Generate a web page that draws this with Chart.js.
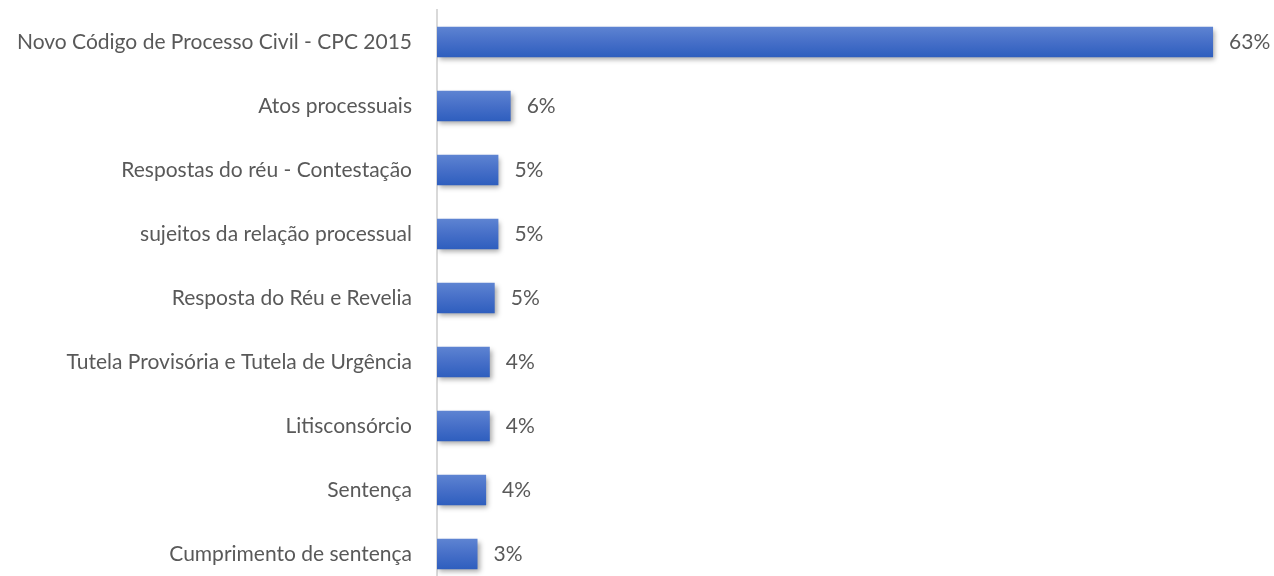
<!DOCTYPE html>
<html>
<head>
<meta charset="utf-8">
<script src="https://cdn.jsdelivr.net/npm/chart.js@4/dist/chart.umd.min.js"></script>
<style>
  html, body { margin: 0; padding: 0; background: #fff; overflow: hidden; }
  canvas { display: block; }
</style>
</head>
<body>
<canvas id="assuntosChart" width="1274" height="586"></canvas>
<script>
const categories = [
    'Novo Código de Processo Civil - CPC 2015',
    'Atos processuais',
    'Respostas do réu - Contestação',
    'sujeitos da relação processual',
    'Resposta do Réu e Revelia',
    'Tutela Provisória e Tutela de Urgência',
    'Litisconsórcio',
    'Sentença',
    'Cumprimento de sentença'
];
const percentValues = [63.2, 6.0, 5.0, 5.0, 4.7, 4.3, 4.3, 4.0, 3.3];

const textColor = '#595959';
const fontFamily = 'Lato, "Open Sans", sans-serif';

// vertical gradient per bar, built from the y scale
function barGradient(context) {
    const chart = context.chart;
    const yScale = chart.scales.y;
    if (!yScale || !chart.chartArea) return '#4472C4';
    const center = yScale.getPixelForValue(context.dataIndex);
    const half = (yScale.height / categories.length) * 0.48 / 2;
    const g = chart.ctx.createLinearGradient(0, center - half, 0, center + half);
    g.addColorStop(0, '#5E84D2');
    g.addColorStop(0.5, '#466FC8');
    g.addColorStop(1, '#2E5EBE');
    return g;
}

const barShadow = {
    id: 'barShadow',
    beforeDatasetDraw(chart) {
        const ctx = chart.ctx;
        ctx.save();
        ctx.shadowColor = 'rgba(0, 0, 0, 0.35)';
        ctx.shadowBlur = 5;
        ctx.shadowOffsetX = 2;
        ctx.shadowOffsetY = 3;
    },
    afterDatasetDraw(chart) {
        chart.ctx.restore();
    }
};

const valueLabels = {
    id: 'valueLabels',
    afterDatasetsDraw(chart) {
        const ctx = chart.ctx;
        const meta = chart.getDatasetMeta(0);
        ctx.save();
        ctx.fillStyle = textColor;
        ctx.font = '21px ' + fontFamily;
        ctx.textAlign = 'left';
        ctx.textBaseline = 'middle';
        meta.data.forEach((bar, i) => {
            ctx.fillText(Math.round(percentValues[i]) + '%', bar.x + 16, bar.y);
        });
        ctx.restore();
    }
};

new Chart(document.getElementById('assuntosChart'), {
    type: 'bar',
    data: {
        labels: categories,
        datasets: [{
            data: percentValues,
            backgroundColor: barGradient,
            borderWidth: 0,
            barPercentage: 0.48,
            categoryPercentage: 1
        }]
    },
    options: {
        indexAxis: 'y',
        responsive: false,
        animation: false,
        layout: {
            padding: { top: 10, right: 2, bottom: 0, left: 0 }
        },
        plugins: {
            legend: { display: false },
            tooltip: { enabled: false }
        },
        scales: {
            x: {
                display: false,
                min: 0,
                max: 68
            },
            y: {
                afterFit: (scale) => {
                    scale.width = 437;
                    scale.paddingTop = 0;
                    scale.paddingBottom = 0;
                },
                grid: { display: false },
                border: { display: true, color: '#D9D9D9', width: 2 },
                ticks: {
                    color: textColor,
                    padding: 17,
                    font: { family: fontFamily, size: 21 }
                }
            }
        }
    },
    plugins: [barShadow, valueLabels]
});
</script>
</body>
</html>
